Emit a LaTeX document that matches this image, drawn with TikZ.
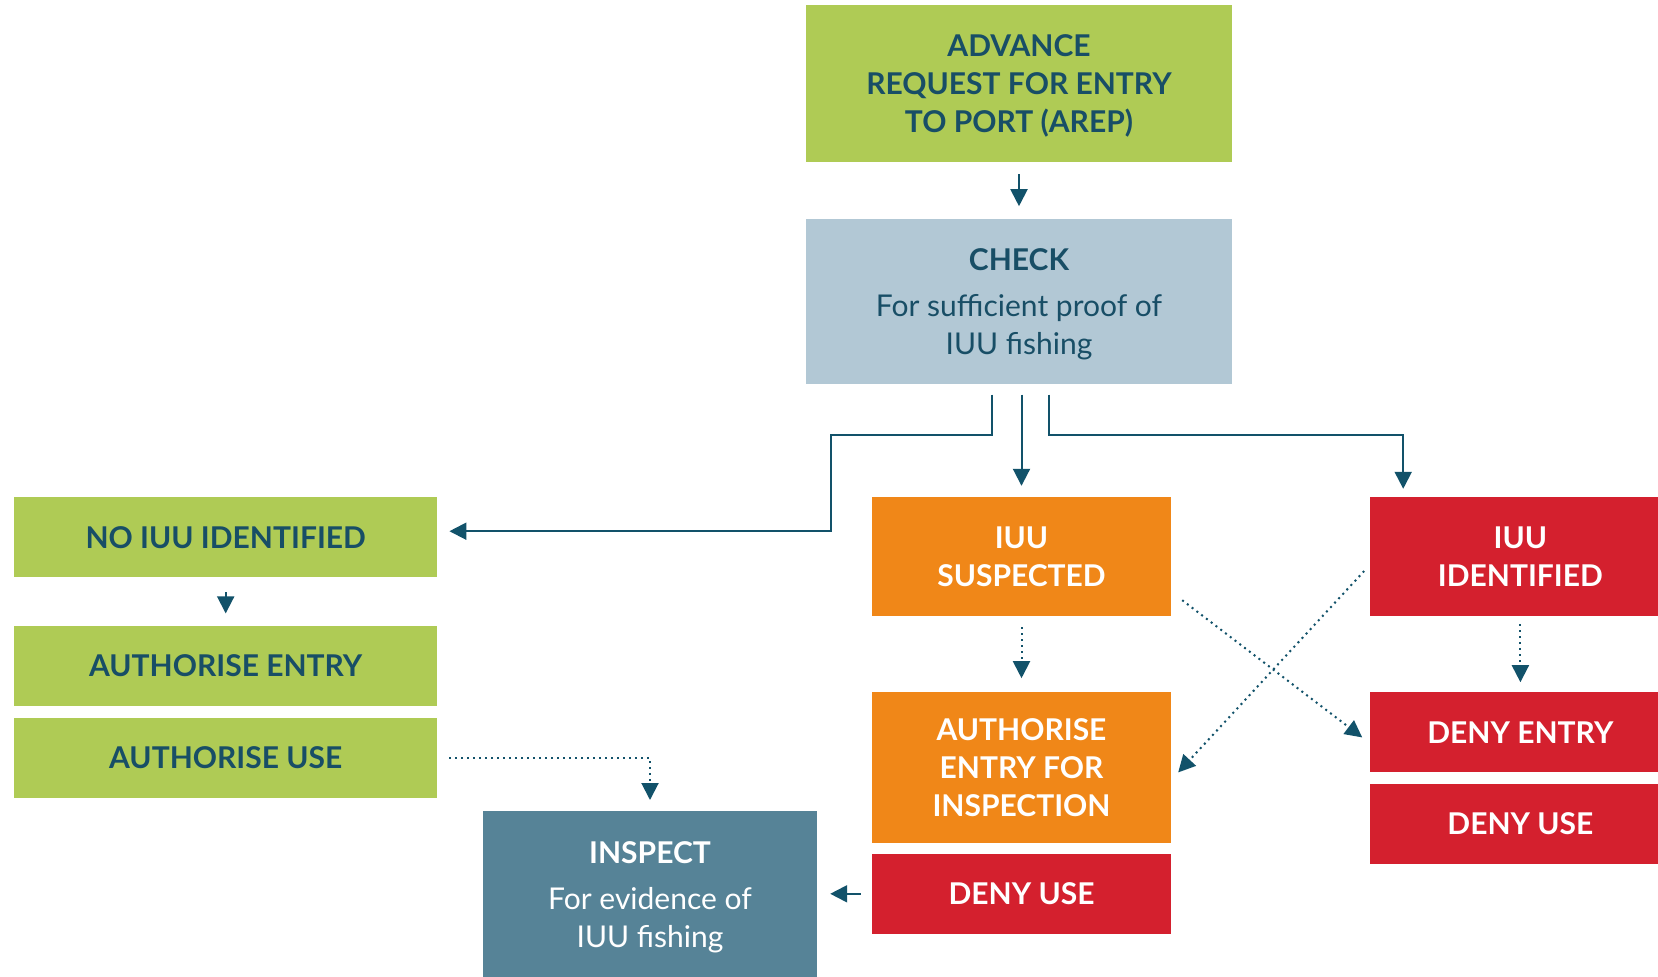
\documentclass[tikz,border=0pt]{standalone}
\usepackage{fontspec}
\setmainfont{Lato}
\usepackage{tikz}
\usetikzlibrary{arrows.meta, positioning}
\definecolor{leafgreen}{RGB}{175,203,85}
\definecolor{inkteal}{RGB}{24,78,102}
\definecolor{checkblue}{RGB}{178,200,213}
\definecolor{suspectorange}{RGB}{240,135,24}
\definecolor{alertred}{RGB}{212,32,46}
\definecolor{inspectblue}{RGB}{86,131,151}
\definecolor{lineteal}{RGB}{18,82,106}
\newcommand{\bodyfont}{\mdseries\fontsize{30}{38}\selectfont}
\tikzset{
  block/.style={rectangle, inner sep=0pt, minimum height=80pt, align=center, font=\bfseries\fontsize{30}{38}\selectfont},
  okbox/.style={block, fill=leafgreen, text=inkteal, minimum width=423pt},
  checkbox/.style={block, fill=checkblue, text=inkteal, minimum width=426pt},
  warnbox/.style={block, fill=suspectorange, text=white, minimum width=299pt},
  denybox/.style={block, fill=alertred, text=white, minimum width=300pt},
  inspectbox/.style={block, fill=inspectblue, text=white, minimum width=334pt},
  arrow/.style={-{Triangle[length=17pt, width=17pt]}, line width=2pt, draw=lineteal},
  dotarrow/.style={arrow, dash pattern=on 2pt off 4pt}
}
\begin{document}
\begin{tikzpicture}[x=1pt, y=-1pt]
  \useasboundingbox[fill=white] (0,0) rectangle (1658,977);
  % Nodes
  \node[okbox, minimum width=426pt, minimum height=157pt, text depth=0pt] (arep) at (1019,83.5) {ADVANCE\\REQUEST FOR ENTRY\\TO PORT (AREP)};
  \node[checkbox, below=57pt of arep, minimum height=165pt, text depth=0pt] (check) {CHECK\\[8pt]\bodyfont For sufficient proof of\\\bodyfont IUU fishing};

  \node[okbox, anchor=north west] (noiuu) at (14,497) {NO IUU IDENTIFIED};
  \node[okbox, below=48pt of noiuu] (authentry) {AUTHORISE ENTRY};
  \node[okbox, below=12pt of authentry] (authuse) {AUTHORISE USE};

  \node[warnbox, minimum height=119pt] (suspected) at (1021.5,556.5) {IUU\\SUSPECTED};
  \node[warnbox, below=76pt of suspected, minimum height=151pt] (authinsp) {AUTHORISE\\ENTRY FOR\\INSPECTION};
  \node[warnbox, below=10pt of authinsp, fill=alertred] (denyusea) {DENY USE};

  \node[denybox, right=199pt of suspected, minimum height=119pt] (identified) {IUU\\IDENTIFIED};
  \node[denybox, below=76pt of identified] (denyentry) {DENY ENTRY};
  \node[denybox, below=11pt of denyentry] (denyuseb) {DENY USE};

  \node[inspectbox, anchor=north, minimum height=166pt, text depth=0pt] (inspect) at (650,811) {INSPECT\\[8pt]\bodyfont For evidence of\\\bodyfont IUU fishing};

  % Connections
  \draw[arrow, shorten <=12pt, shorten >=13pt] (arep) -- (check);
  \draw[arrow, shorten <=10pt, shorten >=11pt] (check.south -| suspected.north) -- (suspected.north);
  \draw[arrow, shorten >=12pt] ([xshift=-27pt, yshift=-10pt]check.south) -- ++(0,40) -- ++(-161,0) |- ([yshift=6pt]noiuu.east);
  \draw[arrow, shorten >=8pt] ([xshift=30pt, yshift=-10pt]check.south) -- ++(0,40) -| ([xshift=33pt]identified.north west);
  \draw[arrow, shorten <=15pt, shorten >=12pt] (noiuu) -- (authentry);
  \draw[dotarrow, shorten <=11pt, shorten >=14pt] (suspected) -- (authinsp);
  \draw[dotarrow, shorten <=8pt, shorten >=10pt] (identified) -- (denyentry);
  \draw[dotarrow] ([xshift=11pt, yshift=16pt]suspected.south east) -- ([xshift=-8pt, yshift=-5pt]denyentry.west);
  \draw[dotarrow] ([xshift=-6pt, yshift=-14.5pt]identified.west) -- ([xshift=7pt, yshift=-4.5pt]authinsp.east);
  \draw[dotarrow, shorten <=12pt, shorten >=11pt] (authuse.east) -| (inspect.north);
  \draw[arrow, shorten <=11pt, shorten >=13pt] (denyusea.west) -- (denyusea.west -| inspect.east);
\end{tikzpicture}
\end{document}
